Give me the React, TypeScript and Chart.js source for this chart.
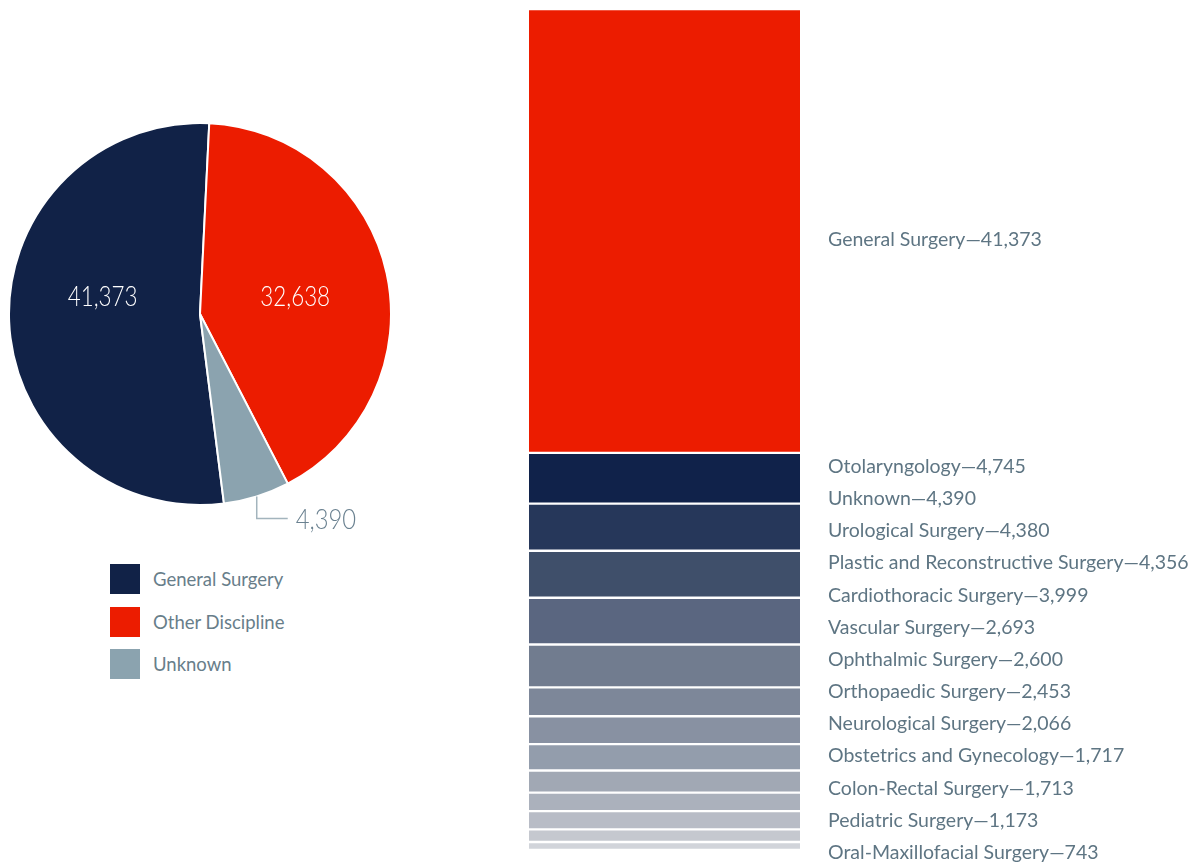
import React, { useEffect, useRef } from "react";
import { Chart, registerables } from "chart.js";

Chart.register(...registerables);

// ---------- Data ----------
const pieLabels = ["General Surgery", "Other Discipline", "Unknown"];
const pieValues = [41373, 32638, 4390];
const pieColors = ["#112247", "#ec1c00", "#8ba3af"];

const barLabels = [
  "General Surgery",
  "Otolaryngology",
  "Unknown",
  "Urological Surgery",
  "Plastic and Reconstructive Surgery",
  "Cardiothoracic Surgery",
  "Vascular Surgery",
  "Ophthalmic Surgery",
  "Orthopaedic Surgery",
  "Neurological Surgery",
  "Obstetrics and Gynecology",
  "Colon-Rectal Surgery",
  "Pediatric Surgery",
  "Oral-Maxillofacial Surgery",
];
const barValues = [41373, 4745, 4390, 4380, 4356, 3999, 2693, 2600, 2453, 2066, 1717, 1713, 1173, 743];
const barColors = [
  "#ec1c00",
  "#10224a",
  "#26375a",
  "#3f4f6a",
  "#5a6680",
  "#717c8f",
  "#7d8799",
  "#8891a2",
  "#939dac",
  "#a1a8b4",
  "#abb1bc",
  "#b8bcc6",
  "#c5c8cf",
  "#d1d4da",
];

const FONT = "Lato";
const fmt = (v: number) => v.toLocaleString("en-US");

function condensedText(ctx: CanvasRenderingContext2D, txt: string, x: number, y: number, sx: number) {
  ctx.save();
  ctx.translate(x, y);
  ctx.scale(sx, 1);
  ctx.fillText(txt, 0, 0);
  ctx.restore();
}

// ---------- Pie ----------
function PieChart() {
  const ref = useRef<HTMLCanvasElement>(null);
  useEffect(() => {
    const labelPlugin = {
      id: "pieLabels",
      afterDatasetsDraw(chart: any) {
        const ctx = chart.ctx;
        const meta = chart.getDatasetMeta(0);
        ctx.save();
        meta.data.forEach((arc: any, i: number) => {
          const mid = (arc.startAngle + arc.endAngle) / 2;
          const R = arc.outerRadius;
          const txt = fmt(pieValues[i]);
          if (i < 2) {
            ctx.font = `300 28px ${FONT}`;
            ctx.fillStyle = "#ffffff";
            ctx.textAlign = "center";
            ctx.textBaseline = "alphabetic";
            const x = arc.x + Math.cos(mid) * R * 0.51;
            condensedText(ctx, txt, x, arc.y - 8, 0.8);
          } else {
            const px = arc.x + Math.cos(mid) * R;
            const py = arc.y + Math.sin(mid) * R;
            const ey = py + 22;
            const ex = px + 31;
            ctx.strokeStyle = "#a3b4bd";
            ctx.lineWidth = 1.5;
            ctx.beginPath();
            ctx.moveTo(px, py);
            ctx.lineTo(px, ey);
            ctx.lineTo(ex, ey);
            ctx.stroke();
            ctx.font = `300 28px ${FONT}`;
            ctx.fillStyle = "#6a8190";
            ctx.textAlign = "left";
            ctx.textBaseline = "alphabetic";
            condensedText(ctx, txt, ex + 8, ey + 11, 0.85);
          }
        });
        ctx.restore();
      },
    };
    const chart = new Chart(ref.current!, {
      type: "pie",
      data: {
        labels: pieLabels,
        datasets: [
          {
            data: pieValues,
            backgroundColor: pieColors,
            borderColor: "#ffffff",
            borderWidth: 2,
          },
        ],
      },
      options: {
        animation: false,
        responsive: false,
        rotation: 172.8,
        layout: { padding: { left: 0, right: 0, top: 114, bottom: 42 } },
        plugins: { legend: { display: false }, tooltip: { enabled: false } },
        events: [],
      },
      plugins: [labelPlugin],
    });
    return () => chart.destroy();
  }, []);
  return (
    <canvas
      ref={ref}
      width={384}
      height={540}
      style={{ position: "absolute", left: 0, top: 0, width: 384, height: 540 }}
    />
  );
}

// ---------- Stacked bar ----------
function BarChart() {
  const ref = useRef<HTMLCanvasElement>(null);
  useEffect(() => {
    const total = barValues.reduce((a, b) => a + b, 0);
    const labelPlugin = {
      id: "barLabels",
      afterDatasetsDraw(chart: any) {
        const ctx = chart.ctx;
        const area = chart.chartArea;
        const n = barLabels.length;
        const tops: number[] = [];
        const bottoms: number[] = [];
        for (let i = 0; i < n; i++) {
          const bar = chart.getDatasetMeta(i).data[0] as any;
          tops.push(Math.min(bar.y, bar.base));
          bottoms.push(Math.max(bar.y, bar.base));
        }
        const first = tops[1] + 13;
        const last = area.bottom + 2;
        const step = (last - first) / (n - 2);
        ctx.save();
        ctx.font = `400 19.5px ${FONT}`;
        ctx.fillStyle = "#5e7583";
        ctx.textAlign = "left";
        ctx.textBaseline = "alphabetic";
        const x = area.right + 28;
        for (let i = 0; i < n; i++) {
          const cy = i === 0 ? (tops[0] + bottoms[0]) / 2 + 8 : first + (i - 1) * step;
          ctx.fillText(`${barLabels[i]}\u2014${fmt(barValues[i])}`, x, cy + 7);
        }
        ctx.restore();
      },
    };
    const chart = new Chart(ref.current!, {
      type: "bar",
      data: {
        labels: ["All"],
        datasets: barLabels.map((l, i) => ({
          label: l,
          data: [barValues[i]],
          backgroundColor: barColors[i],
          borderColor: "#ffffff",
          borderWidth: { top: 1.5, bottom: 1.5, left: 0, right: 0 },
          borderSkipped: false,
          barPercentage: 1,
          categoryPercentage: 1,
        })),
      },
      options: {
        animation: false,
        responsive: false,
        layout: { padding: { left: 9, right: 391, top: 1, bottom: 16 } },
        scales: {
          x: { display: false, stacked: true },
          y: { display: false, stacked: true, reverse: true, min: 0, max: total },
        },
        plugins: { legend: { display: false }, tooltip: { enabled: false } },
        events: [],
      },
      plugins: [labelPlugin],
    });
    return () => chart.destroy();
  }, []);
  return (
    <canvas
      ref={ref}
      width={671}
      height={858}
      style={{ position: "fixed", left: 520, top: 8, width: 671, height: 858 }}
    />
  );
}

function Legend() {
  return (
    <div style={{ position: "absolute", left: 102, top: 556 }}>
      {pieLabels.map((l, i) => (
        <div
          key={l}
          style={{ display: "flex", alignItems: "center", height: 30, marginBottom: 12.5 }}
        >
          <div style={{ width: 30, height: 30, background: pieColors[i] }} />
          <span
            style={{
              marginLeft: 13,
              fontFamily: FONT,
              fontWeight: 400,
              fontSize: 18.5,
              color: "#687e8a",
              whiteSpace: "nowrap",
            }}
          >
            {l}
          </span>
        </div>
      ))}
    </div>
  );
}

export default function App() {
  useEffect(() => {
    document.documentElement.style.overflow = "hidden";
    document.body.style.overflow = "hidden";
  }, []);
  return (
    <div style={{ position: "relative", width: 1183, height: 850 }}>
      <PieChart />
      <Legend />
      <BarChart />
    </div>
  );
}
